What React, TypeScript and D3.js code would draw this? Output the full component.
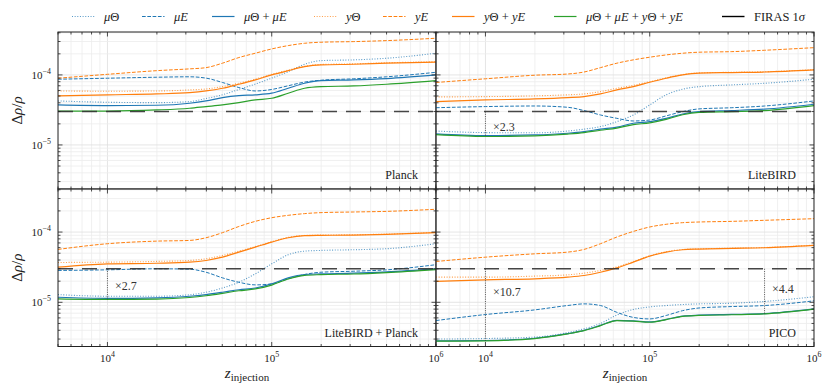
import React from 'react';
import * as d3 from 'd3';

// ---------- data ----------
const zInjection = [5000, 10000, 19950, 31620, 39810, 50120, 63100, 79430, 100000, 125900, 158500, 199500, 316200, 501200, 1000000];

const planckMuTheta = [4.25e-5, 4.07e-5, 4.02e-5, 4.16e-5, 4.6e-5, 5.2e-5, 6.2e-5, 7.4e-5, 9.0e-5, 1.11e-4, 1.42e-4, 1.6e-4, 1.64e-4, 1.73e-4, 2.04e-4];
const planckMuE = [8.68e-5, 8.97e-5, 9.27e-5, 9.4e-5, 9.0e-5, 7.8e-5, 6.6e-5, 5.9e-5, 6.2e-5, 7.0e-5, 7.9e-5, 8.4e-5, 8.8e-5, 9.4e-5, 1.09e-4];
const planckMuThetaMuE = [3.73e-5, 3.65e-5, 3.69e-5, 3.94e-5, 4.25e-5, 4.74e-5, 5.07e-5, 5.2e-5, 5.48e-5, 6.45e-5, 7.6e-5, 8.3e-5, 8.48e-5, 8.86e-5, 1.0e-4];
const planckYTheta = [5.9e-5, 5.85e-5, 5.9e-5, 6.1e-5, 6.3e-5, 6.8e-5, 7.6e-5, 8.7e-5, 1.02e-4, 1.17e-4, 1.33e-4, 1.41e-4, 1.44e-4, 1.49e-4, 1.54e-4];
const planckYE = [8.97e-5, 1.02e-4, 1.15e-4, 1.22e-4, 1.27e-4, 1.47e-4, 1.77e-4, 2.04e-4, 2.35e-4, 2.62e-4, 2.83e-4, 2.93e-4, 2.99e-4, 3.09e-4, 3.34e-4];
const planckYThetaYE = [5.02e-5, 5.2e-5, 5.35e-5, 5.58e-5, 5.9e-5, 6.45e-5, 7.36e-5, 8.5e-5, 1.0e-4, 1.15e-4, 1.31e-4, 1.39e-4, 1.42e-4, 1.47e-4, 1.52e-4];
const planckAll = [3.05e-5, 3.05e-5, 3.16e-5, 3.34e-5, 3.53e-5, 3.73e-5, 4.02e-5, 4.39e-5, 4.64e-5, 5.48e-5, 6.45e-5, 6.8e-5, 6.96e-5, 7.36e-5, 8.3e-5];

const litebirdMuTheta = [1.58e-5, 1.5e-5, 1.49e-5, 1.58e-5, 1.68e-5, 1.83e-5, 2.15e-5, 2.68e-5, 3.73e-5, 5.2e-5, 6.25e-5, 6.8e-5, 7.2e-5, 7.6e-5, 8.68e-5];
const litebirdMuE = [3.4e-5, 3.53e-5, 3.6e-5, 3.45e-5, 3.1e-5, 2.68e-5, 2.4e-5, 2.2e-5, 2.27e-5, 2.6e-5, 2.99e-5, 3.27e-5, 3.4e-5, 3.6e-5, 4.25e-5];
const litebirdMuThetaMuE = [1.44e-5, 1.36e-5, 1.39e-5, 1.47e-5, 1.55e-5, 1.68e-5, 1.8e-5, 2.04e-5, 2.15e-5, 2.4e-5, 2.77e-5, 2.99e-5, 3.1e-5, 3.25e-5, 3.81e-5];
const litebirdYTheta = [4.85e-5, 4.9e-5, 5.02e-5, 5.2e-5, 5.35e-5, 5.78e-5, 6.45e-5, 7.1e-5, 8.0e-5, 9.1e-5, 1.01e-4, 1.07e-4, 1.09e-4, 1.11e-4, 1.19e-4];
const litebirdYE = [7.8e-5, 8.8e-5, 9.9e-5, 1.03e-4, 1.1e-4, 1.27e-4, 1.47e-4, 1.64e-4, 1.79e-4, 1.93e-4, 2.04e-4, 2.11e-4, 2.15e-4, 2.25e-4, 2.45e-4];
const litebirdYThetaYE = [4.16e-5, 4.39e-5, 4.54e-5, 4.74e-5, 4.9e-5, 5.35e-5, 6.1e-5, 6.8e-5, 7.86e-5, 8.97e-5, 1.0e-4, 1.06e-4, 1.08e-4, 1.1e-4, 1.18e-4];
const litebirdAll = [1.4e-5, 1.32e-5, 1.35e-5, 1.43e-5, 1.5e-5, 1.62e-5, 1.74e-5, 1.95e-5, 2.07e-5, 2.32e-5, 2.7e-5, 2.92e-5, 3.0e-5, 3.1e-5, 3.65e-5];

const comboMuTheta = [1.29e-5, 1.22e-5, 1.22e-5, 1.28e-5, 1.39e-5, 1.6e-5, 1.93e-5, 2.54e-5, 3.53e-5, 4.75e-5, 5.35e-5, 5.48e-5, 5.6e-5, 5.79e-5, 6.82e-5];
const comboMuE = [2.84e-5, 2.9e-5, 3.0e-5, 2.96e-5, 2.68e-5, 2.23e-5, 1.93e-5, 1.77e-5, 1.83e-5, 2.16e-5, 2.49e-5, 2.68e-5, 2.77e-5, 2.9e-5, 3.43e-5];
const comboMuThetaMuE = [1.18e-5, 1.14e-5, 1.16e-5, 1.22e-5, 1.29e-5, 1.39e-5, 1.51e-5, 1.6e-5, 1.83e-5, 2.23e-5, 2.49e-5, 2.54e-5, 2.6e-5, 2.72e-5, 3.0e-5];
const comboYTheta = [3.69e-5, 3.73e-5, 3.82e-5, 3.94e-5, 4.17e-5, 4.64e-5, 5.35e-5, 6.2e-5, 7.3e-5, 8.4e-5, 8.95e-5, 9.05e-5, 9.15e-5, 9.35e-5, 9.9e-5];
const comboYE = [5.66e-5, 6.82e-5, 7.43e-5, 7.6e-5, 8.3e-5, 9.8e-5, 1.2e-4, 1.42e-4, 1.6e-4, 1.73e-4, 1.83e-4, 1.89e-4, 1.93e-4, 1.97e-4, 2.11e-4];
const comboYThetaYE = [3.16e-5, 3.53e-5, 3.6e-5, 3.73e-5, 3.94e-5, 4.39e-5, 5.18e-5, 6.1e-5, 7.2e-5, 8.3e-5, 8.87e-5, 8.97e-5, 9.07e-5, 9.27e-5, 9.8e-5];
const comboAll = [1.12e-5, 1.1e-5, 1.11e-5, 1.17e-5, 1.24e-5, 1.34e-5, 1.46e-5, 1.55e-5, 1.76e-5, 2.15e-5, 2.42e-5, 2.48e-5, 2.53e-5, 2.65e-5, 2.92e-5];

const picoMuTheta = [3.0e-6, 3.05e-6, 3.2e-6, 3.7e-6, 4.2e-6, 5.0e-6, 6.6e-6, 7.9e-6, 8.6e-6, 9.0e-6, 9.3e-6, 9.5e-6, 9.7e-6, 1.03e-5, 1.2e-5];
const picoMuE = [5.5e-6, 6.7e-6, 7.8e-6, 9.0e-6, 9.5e-6, 9.0e-6, 7.2e-6, 6.1e-6, 5.8e-6, 6.5e-6, 7.6e-6, 8.3e-6, 8.7e-6, 9.0e-6, 1.05e-5];
const picoMuThetaMuE = [2.82e-6, 2.86e-6, 3.08e-6, 3.58e-6, 3.99e-6, 4.7e-6, 5.55e-6, 5.45e-6, 5.25e-6, 5.72e-6, 6.36e-6, 6.56e-6, 6.72e-6, 6.92e-6, 8.08e-6];
const picoYTheta = [2.28e-5, 2.28e-5, 2.36e-5, 2.46e-5, 2.6e-5, 2.84e-5, 3.2e-5, 3.8e-5, 4.6e-5, 5.25e-5, 5.65e-5, 5.77e-5, 5.9e-5, 6.03e-5, 6.5e-5];
const picoYE = [3.81e-5, 4.39e-5, 4.9e-5, 5.18e-5, 5.66e-5, 6.82e-5, 8.5e-5, 1.02e-4, 1.18e-4, 1.29e-4, 1.36e-4, 1.39e-4, 1.42e-4, 1.47e-4, 1.55e-4];
const picoYThetaYE = [1.99e-5, 2.09e-5, 2.16e-5, 2.28e-5, 2.41e-5, 2.68e-5, 3.09e-5, 3.73e-5, 4.54e-5, 5.18e-5, 5.6e-5, 5.72e-5, 5.85e-5, 5.98e-5, 6.45e-5];
const picoAll = [2.8e-6, 2.83e-6, 3.05e-6, 3.55e-6, 3.95e-6, 4.65e-6, 5.5e-6, 5.4e-6, 5.2e-6, 5.67e-6, 6.3e-6, 6.5e-6, 6.65e-6, 6.85e-6, 8.0e-6];

const panelNames = ['Planck', 'LiteBIRD', 'LiteBIRD + Planck', 'PICO'];
const firasLimit = 3e-5;
// annotations: panel index, z position, label, and the value at which the label is centred
const annoPanel = [1, 2, 3, 3];
const annoZ = [1e4, 1e4, 1e4, 5e5];
const annoLabel = ['×2.3', '×2.7', '×10.7', '×4.4'];
const annoTextValue = [1.8e-5, 1.73e-5, 1.38e-5, 1.57e-5];

const xDomain = [5000, 1e6];
const yDomain = [2.35e-6, 4.1e-4];
const xMajorTicks = [1e4, 1e5, 1e6];
const yMajorTicks = [1e-5, 1e-4];

// ---------- styles ----------
const BLUE = '#1f77b4';
const ORANGE = '#ff7f0e';
const GREEN = '#2ca02c';
const DOT = '1,1.65';
const DASH = '3.7,1.6';

type Style = { color: string; dash?: string; width: number; opacity: number };
const seriesStyles: Style[] = [
  { color: BLUE, dash: DOT, width: 1.1, opacity: 0.75 },
  { color: BLUE, dash: DASH, width: 1, opacity: 1 },
  { color: BLUE, width: 1.2, opacity: 1 },
  { color: ORANGE, dash: DOT, width: 1.1, opacity: 0.75 },
  { color: ORANGE, dash: DASH, width: 1, opacity: 1 },
  { color: ORANGE, width: 1.2, opacity: 1 },
  { color: GREEN, width: 1.2, opacity: 1 },
];

const panelSeries = [
  [planckMuTheta, planckMuE, planckMuThetaMuE, planckYTheta, planckYE, planckYThetaYE, planckAll],
  [litebirdMuTheta, litebirdMuE, litebirdMuThetaMuE, litebirdYTheta, litebirdYE, litebirdYThetaYE, litebirdAll],
  [comboMuTheta, comboMuE, comboMuThetaMuE, comboYTheta, comboYE, comboYThetaYE, comboAll],
  [picoMuTheta, picoMuE, picoMuThetaMuE, picoYTheta, picoYE, picoYThetaYE, picoAll],
];

const FONT = 'Liberation Serif';
const TXT = '#222';

// layout
const COLS = [[58, 436], [436, 814]];
const ROWS = [[32, 189], [189, 346.5]];

function minorTicks(lo: number, hi: number) {
  const out: number[] = [];
  for (let k = Math.floor(Math.log10(lo)); k <= Math.ceil(Math.log10(hi)); k++) {
    for (let m = 1; m <= 9; m++) {
      const v = m * Math.pow(10, k);
      if (v >= lo * 0.9999 && v <= hi * 1.0001) out.push(v);
    }
  }
  return out;
}

function nearestIndex(z: number) {
  let best = 0;
  zInjection.forEach((v, i) => {
    if (Math.abs(Math.log(v / z)) < Math.abs(Math.log(zInjection[best] / z))) best = i;
  });
  return best;
}

function Pow10({ x, y, exp, anchor, size = 11 }: { x: number; y: number; exp: string; anchor: string; size?: number }) {
  return (
    <text x={x} y={y} textAnchor={anchor} fontSize={size} fill={TXT} fontFamily={FONT}>
      <tspan>10</tspan>
      <tspan dy={-size * 0.45} fontSize={size * 0.72}>{exp}</tspan>
    </text>
  );
}

function Panel({ idx }: { idx: number }) {
  const col = idx % 2;
  const row = Math.floor(idx / 2);
  const [x0, x1] = COLS[col];
  const [y0, y1] = ROWS[row];
  const xs = d3.scaleLog().domain(xDomain).range([x0, x1]);
  const ys = d3.scaleLog().domain(yDomain).range([y1, y0]);
  const xMinor = minorTicks(xDomain[0], xDomain[1]);
  const yMinor = minorTicks(yDomain[0], yDomain[1]);
  const line = d3
    .line<[number, number]>()
    .x((d) => xs(d[0]))
    .y((d) => ys(d[1]))
    .curve(d3.curveMonotoneX);
  const series = panelSeries[idx];
  const clipId = `clip${idx}`;
  const firasY = ys(firasLimit);
  const annos = annoPanel.map((p, i) => ({ p, i })).filter((a) => a.p === idx);
  const allSeries = series[6];

  return (
    <g>
      <defs>
        <clipPath id={clipId}>
          <rect x={x0} y={y0} width={x1 - x0} height={y1 - y0} />
        </clipPath>
      </defs>
      <g clipPath={`url(#${clipId})`}>
        {xMinor.map((v, i) => (
          <line key={'gx' + i} x1={xs(v)} x2={xs(v)} y1={y0} y2={y1} stroke={xMajorTicks.includes(v) ? '#dedede' : '#ececec'} strokeWidth={0.8} />
        ))}
        {yMinor.map((v, i) => (
          <line key={'gy' + i} y1={ys(v)} y2={ys(v)} x1={x0} x2={x1} stroke={yMajorTicks.includes(v) ? '#dedede' : '#ececec'} strokeWidth={0.8} />
        ))}
      </g>
      <g clipPath={`url(#${clipId})`} fill="none">
        {series.map((vals, si) => {
          const st = seriesStyles[si];
          const pts = zInjection.map((z, k) => [z, vals[k]] as [number, number]);
          return (
            <path
              key={si}
              d={line(pts) || ''}
              stroke={st.color}
              strokeWidth={st.width}
              strokeDasharray={st.dash}
              strokeOpacity={st.opacity}
            />
          );
        })}
        <line x1={x0} x2={x1} y1={firasY} y2={firasY} stroke="#333" strokeWidth={1.4} strokeDasharray="15,9" strokeOpacity={0.9} />
        {annos.map(({ i }) => {
          const z = annoZ[i];
          const k = nearestIndex(z);
          const ax = xs(z);
          return (
            <line key={'a' + i} x1={ax} x2={ax} y1={firasY} y2={ys(allSeries[k])} stroke="#333" strokeWidth={0.8} strokeDasharray="1,1.3" />
          );
        })}
      </g>
      {annos.map(({ i }) => {
        const ax = xs(annoZ[i]);
        return (
          <text key={'at' + i} x={ax + 7.5} y={ys(annoTextValue[i]) + 4} fontSize={12} fill="#333" fontFamily={FONT}>
            {annoLabel[i]}
          </text>
        );
      })}
      <g stroke="#222" strokeWidth={0.8}>
        {xMinor.map((v, i) => {
          const len = xMajorTicks.includes(v) ? 4.5 : 2.5;
          const x = xs(v);
          return (
            <g key={'tx' + i}>
              <line x1={x} x2={x} y1={y1} y2={y1 - len} />
              <line x1={x} x2={x} y1={y0} y2={y0 + len} />
            </g>
          );
        })}
        {yMinor.map((v, i) => {
          const len = yMajorTicks.includes(v) ? 4.5 : 2.5;
          const y = ys(v);
          return (
            <g key={'ty' + i}>
              <line x1={x0} x2={x0 + len} y1={y} y2={y} />
              <line x1={x1} x2={x1 - len} y1={y} y2={y} />
            </g>
          );
        })}
      </g>
      <rect x={x0} y={y0} width={x1 - x0} height={y1 - y0} fill="none" stroke="#222" strokeWidth={1} />
      <text x={x1 - 18} y={y1 - 10} textAnchor="end" fontSize={12} fill={TXT} fontFamily={FONT}>
        {panelNames[idx]}
      </text>
      {col === 0 &&
        yMajorTicks.map((v) => (
          <Pow10 key={'yl' + v} x={51} y={ys(v) + 4} exp={'−' + Math.round(-Math.log10(v))} anchor="end" />
        ))}
      {row === 1 &&
        xMajorTicks.map((v) => (
          <Pow10 key={'xl' + v} x={xs(v)} y={362} exp={String(Math.round(Math.log10(v)))} anchor="middle" />
        ))}
      {col === 0 && (
        <text transform={`translate(22,${(y0 + y1) / 2}) rotate(-90)`} textAnchor="middle" fontSize={15} fill={TXT} fontFamily={FONT}>
          <tspan>Δ</tspan>
          <tspan fontStyle="italic">ρ</tspan>
          <tspan>/</tspan>
          <tspan fontStyle="italic">ρ</tspan>
        </text>
      )}
      {row === 1 && (
        <text x={(x0 + x1) / 2} y={378} textAnchor="middle" fontSize={15} fill={TXT} fontFamily={FONT}>
          <tspan fontStyle="italic">z</tspan>
          <tspan fontSize={11} dy={3}>injection</tspan>
        </text>
      )}
    </g>
  );
}

type Part = { t: string; i?: boolean };
const legendLabels: Part[][] = [
  [{ t: 'μ', i: true }, { t: 'Θ' }],
  [{ t: 'μE', i: true }],
  [{ t: 'μ', i: true }, { t: 'Θ + ' }, { t: 'μE', i: true }],
  [{ t: 'y', i: true }, { t: 'Θ' }],
  [{ t: 'yE', i: true }],
  [{ t: 'y', i: true }, { t: 'Θ + ' }, { t: 'yE', i: true }],
  [{ t: 'μ', i: true }, { t: 'Θ + ' }, { t: 'μE', i: true }, { t: ' + ' }, { t: 'y', i: true }, { t: 'Θ + ' }, { t: 'yE', i: true }],
  [{ t: 'FIRAS 1' }, { t: 'σ', i: true }],
];
const legendX = [72, 142, 212, 314, 383, 452, 554, 722];

function Legend() {
  const styles: Style[] = [...seriesStyles, { color: '#000', width: 1.4, opacity: 1 }];
  return (
    <g>
      {legendLabels.map((parts, i) => {
        const st = styles[i];
        const x = legendX[i];
        return (
          <g key={i}>
            <line x1={x} x2={x + 22.5} y1={16.5} y2={16.5} stroke={st.color} strokeWidth={st.width} strokeDasharray={st.dash} strokeOpacity={st.opacity} />
            <text x={x + 32} y={21} fontSize={12.5} fill={TXT} fontFamily={FONT}>
              {parts.map((p, j) => (
                <tspan key={j} fontStyle={p.i ? 'italic' : 'normal'}>
                  {p.t}
                </tspan>
              ))}
            </text>
          </g>
        );
      })}
    </g>
  );
}

export default function App() {
  return (
    <svg width={831} height={390} style={{ position: 'fixed', left: 0, top: 0, background: '#fff' }} fontFamily={FONT}>
      <rect width={831} height={390} fill="#fff" />
      {[0, 1, 2, 3].map((i) => (
        <Panel key={i} idx={i} />
      ))}
      <Legend />
    </svg>
  );
}
